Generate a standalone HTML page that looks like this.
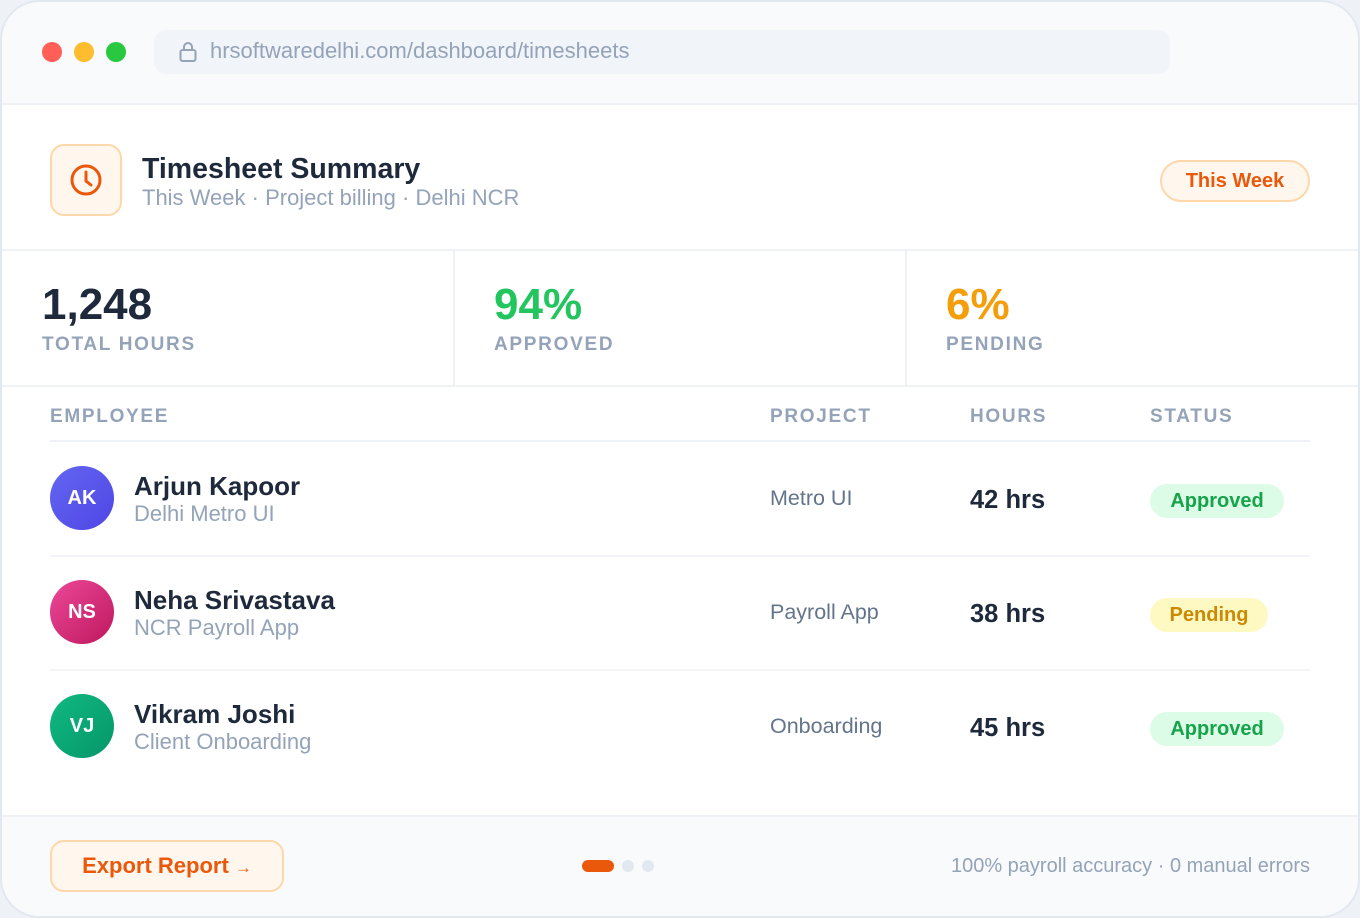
<!DOCTYPE html>
<html><head><meta charset="utf-8"><style>
*{box-sizing:border-box;margin:0;padding:0}
body{width:1360px;height:918px;background:#eef1f5;font-family:"Liberation Sans",sans-serif;position:relative;overflow:hidden}
.card{position:absolute;left:0;top:0;width:1360px;height:918px;background:#fff;border:2px solid #e2e8f0;border-radius:40px;overflow:hidden}
.a{position:absolute;white-space:nowrap}
.dot{position:absolute;top:40px;width:20px;height:20px;border-radius:50%}
.hl{position:absolute;left:0;width:1360px;height:2px;background:#eef2f6}
.lbl{font-size:19px;font-weight:bold;letter-spacing:1.7px;color:#94a3b8}
.big{font-size:44px;font-weight:bold}
.av{position:absolute;left:48px;width:64px;height:64px;border-radius:50%;color:#fff;font-weight:bold;font-size:20px;text-align:center;line-height:64px}
.nm{font-size:26px;font-weight:bold;color:#1e293b}
.sub{font-size:22px;color:#94a3b8}
.pj{font-size:21.5px;color:#64748b}
.hr{font-size:25.5px;font-weight:bold;color:#1e293b}
.pill{position:absolute;height:34px;border-radius:17px;font-size:20px;font-weight:bold;line-height:34px;text-align:center}
.rl{position:absolute;left:48px;width:1260px;height:2px;background:#f3f5f8}
</style></head><body><div class="card">
<div class="a" style="left:0;top:0;width:1360px;height:101px;background:#f8fafc"></div>
<div class="hl" style="top:101px"></div>
<div class="dot" style="left:40px;background:#ff5f57"></div>
<div class="dot" style="left:72px;background:#febc2e"></div>
<div class="dot" style="left:104px;background:#28c840"></div>
<div class="a" style="left:152px;top:28px;width:1016px;height:44px;background:#f1f5f9;border-radius:12px"></div>
<svg class="a" style="left:176px;top:39px" width="20" height="22" viewBox="0 0 20 22"><rect x="2.5" y="9" width="15" height="11" rx="2" fill="none" stroke="#94a3b8" stroke-width="2"/><path d="M6 9V6a4 4 0 0 1 8 0v3" fill="none" stroke="#94a3b8" stroke-width="2"/></svg>
<div class="a" style="left:208px;top:36px;font-size:22px;color:#94a3b8">hrsoftwaredelhi.com/dashboard/timesheets</div>

<div class="a" style="left:48px;top:142px;width:72px;height:72px;border-radius:14px;background:#fff7ed;border:2px solid #fed7aa"></div>
<svg class="a" style="left:66px;top:160px" width="36" height="36" viewBox="0 0 36 36"><circle cx="18" cy="18" r="14" fill="none" stroke="#ea580c" stroke-width="3"/><path d="M18 10v9l5 4" fill="none" stroke="#ea580c" stroke-width="3" stroke-linecap="round"/></svg>
<div class="a" style="left:140px;top:151px;font-size:28.5px;font-weight:bold;color:#1e293b">Timesheet Summary</div>
<div class="a" style="left:140px;top:183px;font-size:22px;color:#94a3b8">This Week · Project billing · Delhi NCR</div>
<div class="pill" style="left:1158px;top:158px;width:150px;height:42px;border-radius:21px;line-height:38px;background:#fff7ed;border:2px solid #fed7aa;color:#ea580c">This Week</div>

<div class="hl" style="top:247px"></div>
<div class="a" style="left:451px;top:249px;width:2px;height:134px;background:#eef2f6"></div>
<div class="a" style="left:903px;top:249px;width:2px;height:134px;background:#eef2f6"></div>
<div class="a big" style="left:40px;top:278px;color:#1e293b">1,248</div>
<div class="a lbl" style="left:40px;top:332px">TOTAL HOURS</div>
<div class="a big" style="left:492px;top:278px;color:#22c55e">94%</div>
<div class="a lbl" style="left:492px;top:332px">APPROVED</div>
<div class="a big" style="left:944px;top:278px;color:#f59e0b">6%</div>
<div class="a lbl" style="left:944px;top:332px">PENDING</div>
<div class="hl" style="top:383px"></div>

<div class="a lbl" style="left:48px;top:404px">EMPLOYEE</div>
<div class="a lbl" style="left:768px;top:404px">PROJECT</div>
<div class="a lbl" style="left:968px;top:404px">HOURS</div>
<div class="a lbl" style="left:1148px;top:404px">STATUS</div>
<div class="rl" style="top:438px;background:#eef2f6"></div>

<div class="av" style="top:464px;background:linear-gradient(135deg,#6366f1,#4f46e5)">AK</div>
<div class="a nm" style="left:132px;top:469px">Arjun Kapoor</div>
<div class="a sub" style="left:132px;top:499px">Delhi Metro UI</div>
<div class="a pj" style="left:768px;top:484px">Metro UI</div>
<div class="a hr" style="left:968px;top:484px">42 hrs</div>
<div class="pill" style="left:1148px;top:482px;width:134px;background:#dcfce7;color:#16a34a">Approved</div>
<div class="rl" style="top:553px"></div>

<div class="av" style="top:578px;background:linear-gradient(135deg,#ec4899,#be185d)">NS</div>
<div class="a nm" style="left:132px;top:583px">Neha Srivastava</div>
<div class="a sub" style="left:132px;top:613px">NCR Payroll App</div>
<div class="a pj" style="left:768px;top:598px">Payroll App</div>
<div class="a hr" style="left:968px;top:598px">38 hrs</div>
<div class="pill" style="left:1148px;top:596px;width:118px;background:#fef9c3;color:#ca8a04">Pending</div>
<div class="rl" style="top:667px"></div>

<div class="av" style="top:692px;background:linear-gradient(135deg,#10b981,#059669)">VJ</div>
<div class="a nm" style="left:132px;top:697px">Vikram Joshi</div>
<div class="a sub" style="left:132px;top:727px">Client Onboarding</div>
<div class="a pj" style="left:768px;top:712px">Onboarding</div>
<div class="a hr" style="left:968px;top:712px">45 hrs</div>
<div class="pill" style="left:1148px;top:710px;width:134px;background:#dcfce7;color:#16a34a">Approved</div>

<div class="a" style="left:0;top:813px;width:1360px;height:110px;background:#f8fafc;border-top:2px solid #eef2f6"></div>
<div class="pill" style="left:48px;top:838px;width:234px;height:52px;border-radius:14px;line-height:48px;background:#fff7ed;border:2px solid #fed7aa;color:#ea580c;font-size:22px">Export Report <span style="font-size:17px">→</span></div>
<div class="a" style="left:580px;top:858px;width:32px;height:12px;border-radius:6px;background:#ea580c"></div>
<div class="a" style="left:620px;top:858px;width:12px;height:12px;border-radius:6px;background:#e2e8f0"></div>
<div class="a" style="left:640px;top:858px;width:12px;height:12px;border-radius:6px;background:#e2e8f0"></div>
<div class="a" style="right:48px;top:853px;font-size:20px;color:#94a3b8">100% payroll accuracy · 0 manual errors</div>
</div></body></html>
